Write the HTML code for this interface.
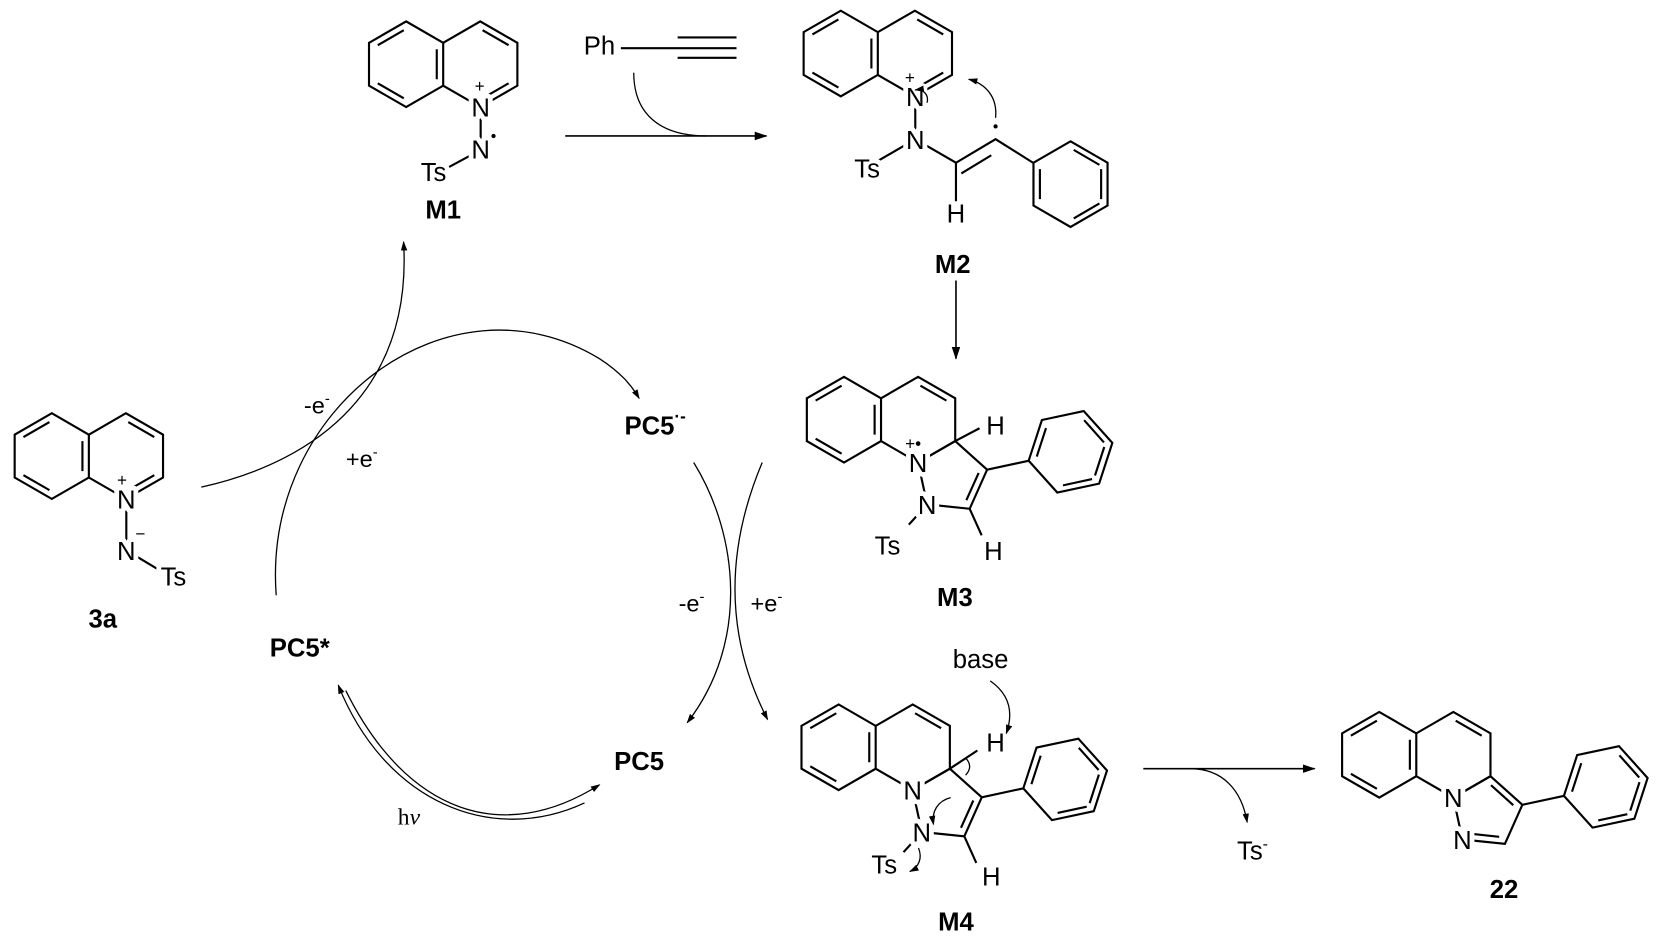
<!DOCTYPE html>
<html><head><meta charset="utf-8"><style>
html,body{margin:0;padding:0;background:#fff;}
svg{display:block;}
text{font-family:"Liberation Sans",sans-serif;fill:#000;}
.at{font-size:24px;text-anchor:middle;paint-order:stroke;stroke:#fff;stroke-width:9px;stroke-linejoin:round;}
.lb{font-size:24px;font-weight:bold;text-anchor:middle;}
.sm{font-size:16px;text-anchor:middle;}
.b{stroke:#000;stroke-width:2;fill:none;stroke-linejoin:miter;}
.c{stroke:#000;stroke-width:1.2;fill:none;}
</style></head><body>
<svg width="1670" height="940" viewBox="0 0 1560 878" preserveAspectRatio="none" xmlns="http://www.w3.org/2000/svg">
<defs>
<marker id="a" markerWidth="12" markerHeight="8" refX="11" refY="4" orient="auto" markerUnits="userSpaceOnUse"><path d="M0,0 L12,4 L0,8 z" fill="#000"/></marker>
<marker id="s" markerWidth="9" markerHeight="6" refX="8" refY="3" orient="auto" markerUnits="userSpaceOnUse"><path d="M0,0 L9,3 L0,6 z" fill="#000"/></marker>
<g id="q">
<path class="b" d="M0,-20 L-34.6,-40 L-69.3,-20 L-69.3,20 L-34.6,40 L0,20 Z M0,-20 L34.6,-40 L69.3,-20 L69.3,20 L34.6,40 L0,20"/>
<path class="b" d="M-61.1,-17.8 L-36.8,-31.8 M-61.1,17.8 L-36.8,31.8 M-6,-14 L-6,14 M36.8,-31.8 L61.1,-17.8"/>
</g>
<g id="ph">
<path class="b" d="M0,-40 L34.6,-20 L34.6,20 L0,40 L-34.6,20 L-34.6,-20 Z"/>
<path class="b" d="M3,-32 L27,-18 M28.6,-14 L28.6,14 M3,32 L27,18 M-28.6,-14 L-28.6,14"/>
</g>
</defs>

<!-- M1 -->
<g transform="translate(414,60)"><use href="#q"/><path class="b" d="M61.1,17.8 L36.8,31.8"/></g>
<path class="b" d="M449,100 L449,140 M449,140 L412,160"/>
<text class="at" x="449" y="109">N</text>
<text class="sm" x="448" y="86">+</text>
<text class="at" x="449" y="148">N</text>
<circle cx="461" cy="127" r="2"/>
<text class="at" x="405" y="169">Ts</text>
<text class="lb" x="414" y="204">M1</text>

<!-- Ph alkyne -->
<text x="560" y="51" style="font-size:24px;text-anchor:middle">Ph</text>
<path class="b" d="M580,45 L688,45 M633,35 L688,35 M633,54 L688,54"/>
<path class="c" d="M592,68 C592,105 615,127 660,127"/>
<path class="b" style="stroke-width:1.5" d="M528,127 L716,127" marker-end="url(#a)"/>

<!-- M2 -->
<g transform="translate(820,50)"><use href="#q"/><path class="b" d="M61.1,17.8 L36.8,31.8"/></g>
<path class="b" d="M855,90 L855,130 L893,152 L930,130 L965,152 M855,130 L812,155 M893,152 L893,188 M898,162 L926,145"/>
<use href="#ph" transform="translate(1000,172)"/>
<text class="at" x="855" y="99">N</text>
<text class="sm" x="850" y="78">+</text>
<text class="at" x="855" y="139">N</text>
<text class="at" x="810" y="166">Ts</text>
<text class="at" x="893" y="208">H</text>
<circle cx="930" cy="118" r="2"/>
<path class="c" d="M930,110 C932,90 920,78 905,74" marker-end="url(#s)"/>
<path class="c" d="M866,96 C868,88 862,83 855,84" marker-end="url(#s)"/>
<text class="lb" x="890" y="255">M2</text>
<path class="b" style="stroke-width:1.5" d="M893,262 L893,335" marker-end="url(#a)"/>

<!-- M3 -->
<g transform="translate(823,392)">
<use href="#q"/>
<path class="b" d="M69.3,20 L34.6,40 L43.1,79.1 L82.8,83.2 L99.1,46.7 Z M79.7,75.2 L91.2,49.7 M69.3,20 L92,8 M82.8,83.2 L94,108 M43.1,79.1 L26,98 M99.1,46.7 L138.2,38.3"/>
<text class="at" x="34.6" y="49">N</text>
<text class="sm" x="30" y="28">+•</text>
<text class="at" x="43.1" y="88">N</text>
<text class="at" x="107" y="14">H</text>
<text class="at" x="105" y="131">H</text>
<text class="at" x="6" y="126">Ts</text>
</g>
<use href="#ph" transform="translate(1000,422) rotate(18)"/>
<text class="lb" x="892" y="566">M3</text>

<!-- 3a -->
<g transform="translate(83,426)"><use href="#q"/><path class="b" d="M61.1,17.8 L36.8,31.8"/></g>
<path class="b" d="M118,466 L118,514 L148,532"/>
<text class="at" x="118" y="475">N</text>
<text class="sm" x="114" y="454">+</text>
<text class="at" x="118" y="523">N</text>
<text class="sm" x="131" y="504">−</text>
<text class="at" x="162" y="547">Ts</text>
<text class="lb" x="96" y="586">3a</text>

<!-- cycle -->
<text class="lb" x="612" y="406">PC5<tspan dy="-12" font-size="16">·-</tspan></text>
<text class="lb" x="280" y="613">PC5*</text>
<text class="lb" x="597" y="719">PC5</text>
<text x="382" y="770" style="font-size:22px;text-anchor:middle;font-family:'Liberation Serif',serif">h<tspan font-style="italic">ν</tspan></text>
<text x="296" y="386" style="font-size:22px;text-anchor:middle">-e<tspan dy="-9" font-size="14">-</tspan></text>
<text x="338" y="436" style="font-size:22px;text-anchor:middle">+e<tspan dy="-9" font-size="14">-</tspan></text>
<text x="646" y="571" style="font-size:22px;text-anchor:middle">-e<tspan dy="-9" font-size="14">-</tspan></text>
<text x="716" y="571" style="font-size:22px;text-anchor:middle">+e<tspan dy="-9" font-size="14">-</tspan></text>

<path class="c" d="M188,455 C300,430 385,360 377,226" marker-end="url(#s)"/>
<path class="c" d="M258,556 C245,380 420,250 560,335 C580,348 590,360 597,372" marker-end="url(#s)"/>
<path class="c" d="M648,432 C690,500 700,600 642,675" marker-end="url(#s)"/>
<path class="c" d="M712,432 C675,520 680,600 717,672" marker-end="url(#s)"/>
<path class="c" d="M323,645 C380,760 470,790 560,733" marker-end="url(#s)"/>
<path class="c" d="M546,750 C460,790 360,750 316,640" marker-end="url(#s)"/>

<!-- M4 -->
<g transform="translate(818,698)">
<use href="#q"/>
<path class="b" d="M69.3,20 L34.6,40 L43.1,79.1 L82.8,83.2 L99.1,46.7 Z M79.7,75.2 L91.2,49.7 M69.3,20 L95,3 M82.8,83.2 L94,108 M43.1,79.1 L26,98 M99.1,46.7 L138.2,38.3"/>
<text class="at" x="34.6" y="49">N</text>
<text class="at" x="43.1" y="88">N</text>
<text class="at" x="112" y="4">H</text>
<text class="at" x="108" y="129">H</text>
<text class="at" x="8" y="118">Ts</text>
<path class="c" d="M84,10 C90,16 88,22 84,26"/>
<path class="c" d="M70,47 C58,50 52,60 54,72" marker-end="url(#s)"/>
<path class="c" d="M40,94 C44,104 40,112 32,116" marker-end="url(#s)"/>
</g>
<use href="#ph" transform="translate(995,728) rotate(18)"/>
<text x="916" y="624" style="font-size:24px;text-anchor:middle">base</text>
<path class="c" d="M925,636 C945,650 946,668 940,685" marker-end="url(#s)"/>
<text class="lb" x="893" y="869">M4</text>

<!-- to 22 -->
<path class="b" style="stroke-width:1.5" d="M1068,718 L1228,718" marker-end="url(#a)"/>
<path class="c" d="M1112,718 C1142,718 1160,738 1165,768" marker-end="url(#s)"/>
<text x="1170" y="803" style="font-size:24px;text-anchor:middle">Ts<tspan dy="-10" font-size="15">-</tspan></text>

<!-- 22 -->
<g transform="translate(1323,705)">
<use href="#q"/>
<path class="b" d="M69.3,20 L34.6,40 L43.1,79.1 L82.8,83.2 L99.1,46.7 Z M69.8,28.4 L90.6,47.1 M53.6,74.1 L77.4,76.6 M99.1,46.7 L138.2,38.3"/>
<text class="at" x="34.6" y="49">N</text>
<text class="at" x="43.1" y="88">N</text>
</g>
<use href="#ph" transform="translate(1500,735) rotate(18)"/>
<text class="lb" x="1405" y="839">22</text>
</svg>
</body></html>
